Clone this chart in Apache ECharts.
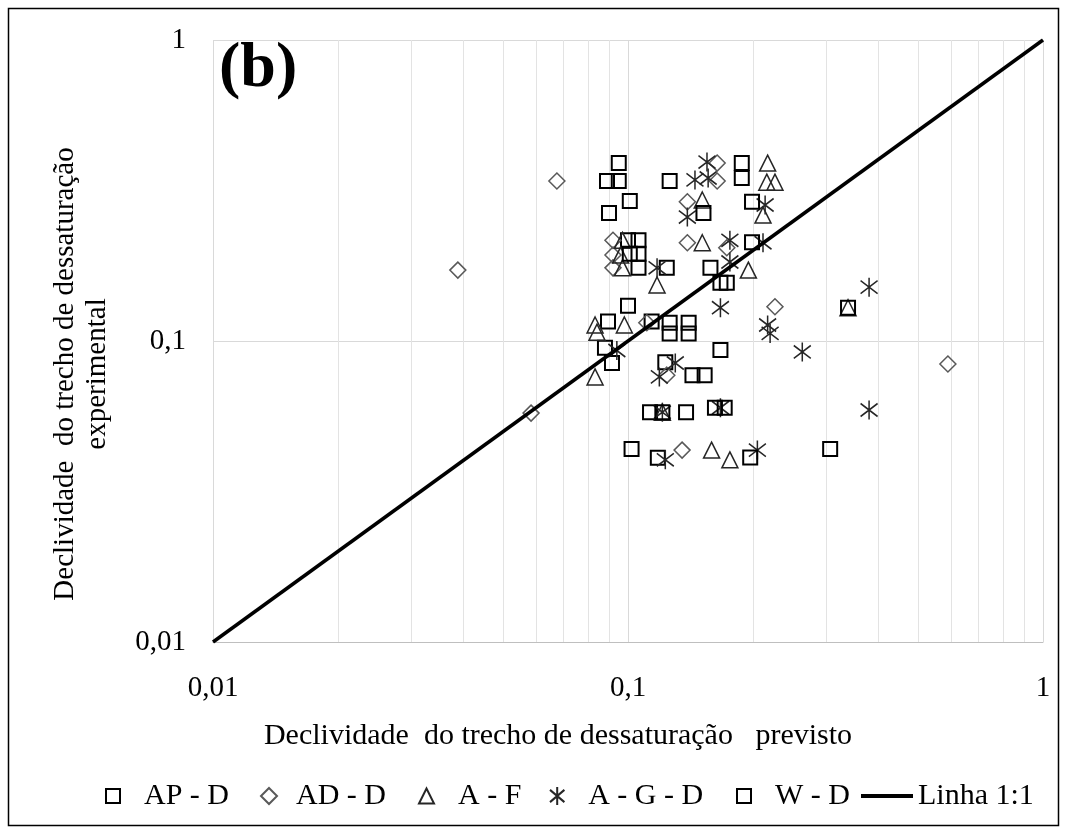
<!DOCTYPE html>
<html>
<head>
<meta charset="utf-8">
<script src="https://cdn.jsdelivr.net/npm/echarts@6.0.0/dist/echarts.min.js"></script>
<style>
  html, body { margin: 0; padding: 0; background: #fff; }
  #chart { width: 1067px; height: 832px; }
</style>
</head>
<body>
<div id="chart"></div>
<script>
// Predicted (x) vs experimental (y) desaturation slope, per soil/method group
const apD = [
  [0.095, 0.39], [0.089, 0.34], [0.095, 0.34], [0.101, 0.292], [0.090, 0.266],
  [0.126, 0.34], [0.100, 0.216], [0.106, 0.216], [0.106, 0.195], [0.106, 0.175],
  [0.124, 0.175], [0.0895, 0.116], [0.088, 0.095], [0.0915, 0.0845], [0.100, 0.131],
  [0.114, 0.116], [0.123, 0.085], [0.113, 0.058], [0.102, 0.0438], [0.118, 0.0409],
  [0.138, 0.058], [0.143, 0.077]
];
const adD = [
  [0.164, 0.39], [0.164, 0.34], [0.139, 0.29], [0.139, 0.212], [0.173, 0.204],
  [0.092, 0.216], [0.092, 0.193], [0.092, 0.175], [0.0674, 0.34], [0.0389, 0.172],
  [0.0584, 0.0576], [0.590, 0.0839], [0.226, 0.130], [0.135, 0.0434], [0.124, 0.077],
  [0.111, 0.115]
];
const aF = [
  [0.0833, 0.113], [0.0842, 0.107], [0.098, 0.113], [0.0833, 0.076], [0.1175, 0.1535],
  [0.151, 0.294], [0.151, 0.212], [0.217, 0.39], [0.216, 0.337], [0.226, 0.337],
  [0.2115, 0.262], [0.195, 0.172], [0.159, 0.0434], [0.176, 0.0403], [0.097, 0.216],
  [0.097, 0.175], [0.339, 0.129], [0.121, 0.058], [0.096, 0.193]
];
const agD = [
  [0.155, 0.393], [0.156, 0.348], [0.145, 0.343], [0.139, 0.258], [0.214, 0.283],
  [0.176, 0.216], [0.176, 0.183], [0.2115, 0.212], [0.217, 0.113], [0.220, 0.106],
  [0.1175, 0.175], [0.167, 0.129], [0.094, 0.093], [0.130, 0.0845], [0.119, 0.076],
  [0.123, 0.0403], [0.205, 0.0434], [0.381, 0.151], [0.381, 0.059], [0.263, 0.092],
  [0.167, 0.060], [0.121, 0.058]
];
const wD = [
  [0.188, 0.39], [0.188, 0.348], [0.199, 0.29], [0.152, 0.266], [0.158, 0.175],
  [0.167, 0.156], [0.173, 0.156], [0.199, 0.213], [0.126, 0.115], [0.126, 0.106],
  [0.140, 0.115], [0.140, 0.106], [0.153, 0.077], [0.167, 0.0934], [0.121, 0.058],
  [0.162, 0.060], [0.171, 0.060], [0.197, 0.041], [0.307, 0.0438], [0.339, 0.129],
  [0.101, 0.195]
];
const oneToOne = [[0.01, 0.01], [1, 1]];
const minorGridX = [0.02, 0.03, 0.04, 0.05, 0.06, 0.07, 0.08, 0.09,
                    0.2, 0.3, 0.4, 0.5, 0.6, 0.7, 0.8, 0.9];

const FONT = '"Liberation Serif", "Times New Roman", serif';
const SQUARE = 'path://M0,0H10V10H0Z';
const DIAMOND = 'path://M5,0L10,5L5,10L0,5Z';
const TRIANGLE = 'path://M5,0L10,10L0,10Z';
const ASTERISK = 'path://M5,0V10M1,1.6L9,8.4M1,8.4L9,1.6';

const fmt = v => String(Number(v.toPrecision(6))).replace('.', ',');

function scatter(name, data, symbol, size, stroke, width) {
  return {
    name, type: 'scatter', data, symbol, symbolSize: size,
    itemStyle: { color: 'rgba(0,0,0,0)', borderColor: stroke, borderWidth: width, opacity: 1 },
    emphasis: { disabled: true },
    z: 3
  };
}

// One legend block per entry so each icon/label pair sits at its own spot
function legendAt(item, left, width, height) {
  return {
    data: [item], left, top: 781, itemWidth: width, itemHeight: height,
    textStyle: { fontFamily: FONT, fontSize: 30, color: '#000' },
    selectedMode: false, padding: 0
  };
}

const chart = echarts.init(document.getElementById('chart'), null, { renderer: 'canvas' });
chart.setOption({
  animation: false,
  backgroundColor: '#fff',
  grid: { left: 213, right: 24, top: 40, bottom: 190, containLabel: false, outerBoundsMode: 'none' },
  xAxis: {
    type: 'log', logBase: 10, min: 0.01, max: 1,
    axisLine: { show: true, lineStyle: { color: '#bfbfbf', width: 1 } },
    axisTick: { show: false },
    axisLabel: { formatter: fmt, fontFamily: FONT, fontSize: 29, color: '#000', margin: 32 },
    splitLine: { show: true, lineStyle: { color: '#d9d9d9', width: 1 } }
  },
  yAxis: {
    type: 'log', logBase: 10, min: 0.01, max: 1,
    axisLine: { show: false },
    axisTick: { show: false },
    axisLabel: { formatter: fmt, fontFamily: FONT, fontSize: 29, color: '#000', margin: 27 },
    splitLine: { show: true, lineStyle: { color: '#d9d9d9', width: 1 } }
  },
  legend: [
    legendAt('AP - D', 105, 52, 14),
    legendAt('AD - D', 260, 44, 16),
    legendAt('A - F', 418, 53, 15),
    legendAt('A - G - D', 549, 52, 18),
    legendAt('W - D', 736, 52, 14),
    legendAt({ name: 'Linha 1:1', icon: 'rect', itemStyle: { color: '#000' } }, 861, 52, 4)
  ],
  series: [
    scatter('AP - D', apD, SQUARE, 14, '#000', 2),
    scatter('AD - D', adD, DIAMOND, 16, '#595959', 1.5),
    scatter('A - F', aF, TRIANGLE, 16, '#262626', 1.5),
    scatter('A - G - D', agD, ASTERISK, [17, 19], '#262626', 1.6),
    scatter('W - D', wD, SQUARE, 14, '#000', 2),
    {
      name: 'Linha 1:1', type: 'line', data: oneToOne, symbol: 'none',
      itemStyle: { color: '#000' },
      lineStyle: { color: '#000', width: 3.5 },
      emphasis: { disabled: true },
      z: 5,
      markLine: {
        silent: true, symbol: 'none', label: { show: false },
        lineStyle: { color: '#e3e3e3', width: 1, type: 'solid' },
        emphasis: { disabled: true },
        data: minorGridX.map(v => ({ xAxis: v })),
        z: 1
      }
    }
  ],
  graphic: [
    {
      type: 'rect', silent: true, z: 10,
      shape: { x: 8.5, y: 8.5, width: 1050, height: 817 },
      style: { fill: 'none', stroke: '#000', lineWidth: 1.5 }
    },
    {
      type: 'text', left: 219, top: 37, z: 10, silent: true,
      style: { text: '(b)', font: 'bold 64px ' + FONT, fill: '#000' }
    },
    {
      type: 'text', x: 558, y: 736, z: 10, silent: true,
      style: {
        text: 'Declividade  do trecho de dessaturação   previsto',
        font: '30px ' + FONT, fill: '#000', align: 'center', verticalAlign: 'middle'
      }
    },
    {
      type: 'text', x: 81, y: 374, rotation: Math.PI / 2, z: 10, silent: true,
      style: {
        text: 'Declividade  do trecho de dessaturação\nexperimental',
        font: '29px ' + FONT, fill: '#000', align: 'center', verticalAlign: 'middle',
        lineHeight: 32
      }
    }
  ]
});
</script>
</body>
</html>
